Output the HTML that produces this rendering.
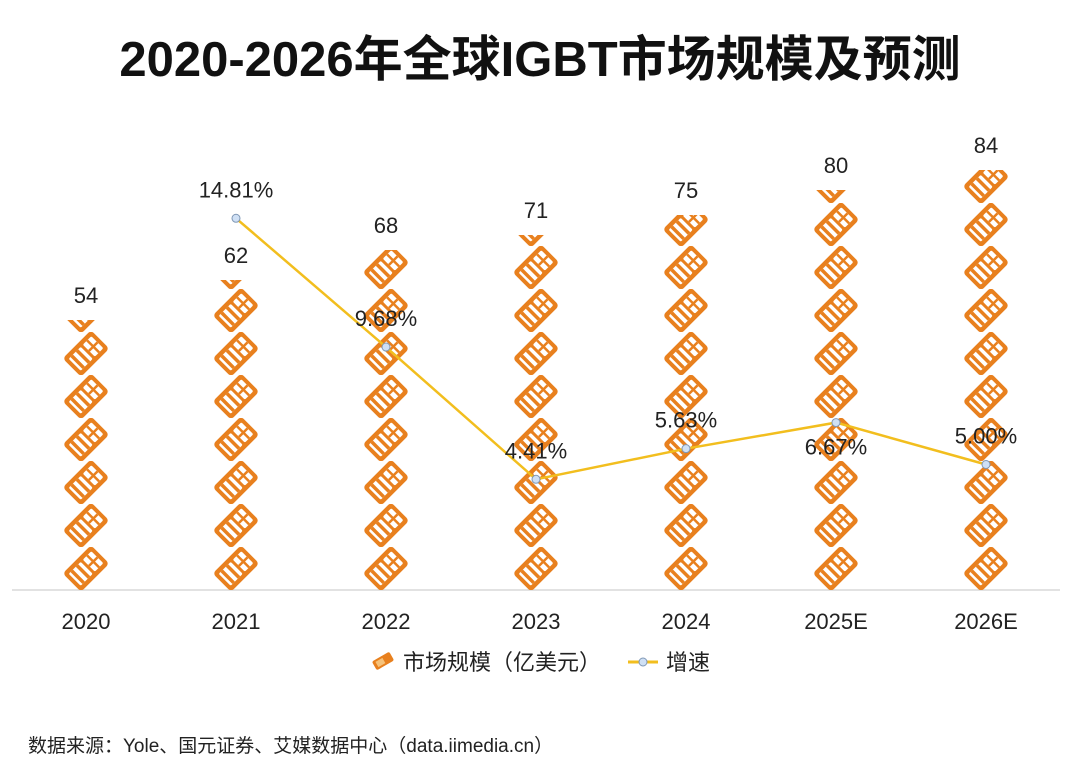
<!DOCTYPE html>
<html><head><meta charset="utf-8"><style>
body{margin:0;background:#fff;}
svg text{font-family:"Liberation Sans","Noto Sans CJK SC",sans-serif;}
</style></head><body>
<svg width="1080" height="771" viewBox="0 0 1080 771">
<defs>
  <pattern id="icons" patternUnits="userSpaceOnUse" x="11" y="590" width="150" height="43">
    <g transform="translate(75,21.5) rotate(-45)">
      <rect x="-20" y="-13" width="40" height="26" rx="4" fill="#E8801E"/>
      <rect x="-16" y="-8.5" width="17" height="17" rx="1.5" fill="#fff"/>
      <rect x="-13.5" y="-8.5" width="3.5" height="17" fill="#E8801E"/>
      <rect x="-6" y="-8.5" width="3.5" height="17" fill="#E8801E"/>
      <rect x="4" y="-8.5" width="12" height="17" rx="1.5" fill="#fff"/>
      <rect x="4" y="-1" width="12" height="2.5" fill="#E8801E"/>
      <rect x="8.8" y="-8.5" width="2.5" height="17" fill="#E8801E"/>
    </g>
  </pattern>
</defs>
<text x="540" y="76" text-anchor="middle" font-size="49" font-weight="bold" fill="#111">2020-2026年全球IGBT市场规模及预测</text>
<line x1="12" y1="590" x2="1060" y2="590" stroke="#d9d9d9" stroke-width="1.5"/>
<g id="bars"></g>
<g id="line"></g>
<g id="labels"></g>
<g>
  <g transform="translate(383,661) rotate(-30)">
    <rect x="-10" y="-5" width="20" height="10" rx="2" fill="#E8801E"/>
    <rect x="-7" y="-3" width="8" height="6" fill="#F6C27A"/>
  </g>
  <text x="403" y="670" font-size="22" fill="#222">市场规模（亿美元）</text>
  <line x1="628" y1="662" x2="658" y2="662" stroke="#F2BE1E" stroke-width="3"/>
  <circle cx="643" cy="662" r="4" fill="#cfe0f5" stroke="#7f97b5" stroke-width="1"/>
  <text x="666" y="670" font-size="22" fill="#222">增速</text>
</g>
<text x="28" y="752" font-size="19" fill="#222">数据来源：Yole、国元证券、艾媒数据中心（data.iimedia.cn）</text>
</svg>
<script>
const categories = ["2020","2021","2022","2023","2024","2025E","2026E"];
const marketSize = [54,62,68,71,75,80,84];
const growthRate = [null,14.81,9.68,4.41,5.63,6.67,5.00];
const growthLabels = ["","14.81%","9.68%","4.41%","5.63%","6.67%","5.00%"];

const NS="http://www.w3.org/2000/svg";
const baseY=590, x0=86, step=150, pxPerUnit=5, pxPerPct=25.1;
const xPos=i=>x0+i*step;
const yBar=v=>baseY-v*pxPerUnit;
const yPct=v=>baseY-v*pxPerPct;
function mk(tag,attrs,parent){const e=document.createElementNS(NS,tag);for(const k in attrs)e.setAttribute(k,attrs[k]);parent.appendChild(e);return e;}
const bars=document.getElementById('bars'),line=document.getElementById('line'),labels=document.getElementById('labels');
categories.forEach((c,i)=>{
  const x=xPos(i), top=yBar(marketSize[i]);
  const r=mk('rect',{x:x-32,y:top,width:64,height:baseY-top,fill:'url(#icons)'},bars);
  
  
  const t=mk('text',{x:x,y:top-17,'text-anchor':'middle','font-size':22,fill:'#222'},labels);
  t.textContent=marketSize[i];
  
  
  const xl=mk('text',{x:x,y:629,'text-anchor':'middle','font-size':22,fill:'#222'},labels);
  xl.textContent=c;
  
  
});
let pts=[];
growthRate.forEach((g,i)=>{if(g!==null)pts.push(xPos(i)+','+yPct(g));});
const pl=mk('polyline',{points:pts.join(' '),fill:'none',stroke:'#F2BE1E','stroke-width':2.5},line);


growthRate.forEach((g,i)=>{
  if(g===null)return;
  const x=xPos(i),y=yPct(g);
  const c=mk('circle',{cx:x,cy:y,r:4,fill:'#cfe0f5',stroke:'#7f97b5','stroke-width':1},line);
  
  
  const below = i===5;
  const t=mk('text',{x:x,y:below?y+32:y-21,'text-anchor':'middle','font-size':22,fill:'#222'},labels);
  t.textContent=growthLabels[i];
  
  
});
</script>
</body></html>
